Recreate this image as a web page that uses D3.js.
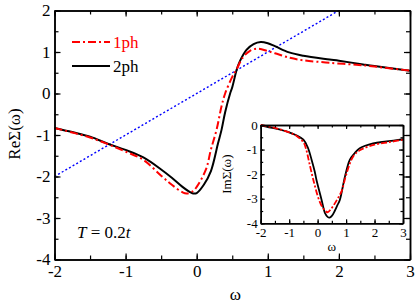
<!DOCTYPE html>
<html>
<head>
<meta charset="utf-8">
<script src="https://cdn.jsdelivr.net/npm/d3@7"></script>
<style>
  body { margin: 0; background: #fff; }
  svg, svg text { font-family: "Liberation Serif", "Times New Roman", serif; }
  .axis path, .axis line { stroke: #000; }
</style>
</head>
<body>
<div id="graph-area"></div>
<script>
// real part, 1 phonon and 2 phonon
var reW1 = [-2, -1.75, -1.5, -1.25, -1, -0.75, -0.5, -0.35, -0.2, -0.14, -0.05, 0, 0.13, 0.2, 0.28, 0.35, 0.4, 0.5, 0.56, 0.65, 0.75, 0.86, 1.0, 1.1, 1.31, 1.5, 1.87, 2.34, 2.5, 3];
var reS1 = [-0.83, -0.94, -1.06, -1.22, -1.40, -1.60, -1.98, -2.2, -2.38, -2.41, -2.35, -2.25, -1.83, -1.35, -0.87, -0.3, 0.0, 0.4, 0.58, 0.87, 1.03, 1.08, 1.02, 0.97, 0.86, 0.80, 0.74, 0.68, 0.65, 0.55];
var reW2 = [-2, -1.75, -1.5, -1.25, -1, -0.75, -0.5, -0.35, -0.2, -0.1, -0.05, 0, 0.1, 0.2, 0.3, 0.35, 0.4, 0.47, 0.5, 0.56, 0.6, 0.7, 0.8, 0.9, 1.0, 1.1, 1.3, 1.5, 1.87, 2, 2.34, 2.5, 3];
var reS2 = [-0.83, -0.93, -1.04, -1.21, -1.36, -1.54, -1.83, -2.03, -2.25, -2.37, -2.41, -2.40, -2.2, -1.87, -1.2, -0.87, -0.45, 0, 0.15, 0.56, 0.75, 1.05, 1.19, 1.24, 1.21, 1.14, 0.99, 0.91, 0.82, 0.79, 0.70, 0.66, 0.55];

// imaginary part (inset)
var imW1 = [-2, -1.5, -1, -0.75, -0.5, -0.4, -0.3, -0.15, 0.05, 0.2, 0.35, 0.45, 0.6, 0.7, 0.84, 1.02, 1.25, 1.5, 2, 2.5, 3];
var imS1 = [0, -0.12, -0.3, -0.44, -0.7, -1.0, -1.5, -2.24, -3.05, -3.4, -3.55, -3.45, -3.2, -3.0, -2.7, -1.96, -1.28, -1.02, -0.8, -0.7, -0.6];
var imW2 = [-2, -1.5, -1, -0.75, -0.5, -0.35, -0.21, -0.1, -0.04, 0.14, 0.26, 0.35, 0.42, 0.5, 0.6, 0.7, 0.78, 0.96, 1.13, 1.3, 1.48, 1.95, 2.42, 3];
var imS2 = [-0.02, -0.14, -0.3, -0.42, -0.6, -0.9, -1.42, -1.9, -2.24, -3.05, -3.59, -3.74, -3.77, -3.7, -3.5, -3.25, -3.05, -2.1, -1.42, -1.15, -0.95, -0.75, -0.67, -0.58];

// dotted line y = omega
var diagW = [-2, 2];

var mainXTicks = [-2, -1, 0, 1, 2, 3];
var mainYTicks = [-4, -3, -2, -1, 0, 1, 2];
var insetXTicks = [-2, -1, 0, 1, 2, 3];
var insetYTicks = [-4, -3, -2, -1, 0];
var legendNames = ["1ph", "2ph"];

var W = 415, H = 303;
var SERIF = "Liberation Serif, Times New Roman, serif";

var svg = d3.select("#graph-area").append("svg")
    .attr("width", W)
    .attr("height", H);

function halves(a, b) {
    var out = [];
    for (var v = a; v <= b + 1e-9; v += 0.5) out.push(v);
    return out;
}

function zip(w, s) {
    return w.map(function(d, i) { return [d, s[i]]; });
}

// draws a boxed frame with inward ticks on all four sides
function frame(g, x, y, xt, yt, big, small, fontSize, pad) {
    var x0 = x.range()[0], x1 = x.range()[1], y0 = y.range()[0], y1 = y.range()[1];
    var fmt = function(d) { return String(d); };
    var xmin = halves(x.domain()[0], x.domain()[1]), ymin = halves(y.domain()[0], y.domain()[1]);

    g.append("g").attr("class", "axis").attr("transform", "translate(0," + y0 + ")")
        .call(d3.axisBottom(x).tickValues(xmin).tickSizeInner(-small).tickSizeOuter(0).tickFormat(""));
    g.append("g").attr("class", "axis").attr("transform", "translate(0," + y0 + ")")
        .call(d3.axisBottom(x).tickValues(xt).tickSizeInner(-big).tickSizeOuter(0).tickPadding(pad).tickFormat(fmt));
    g.append("g").attr("class", "axis").attr("transform", "translate(0," + y1 + ")")
        .call(d3.axisTop(x).tickValues(xmin).tickSizeInner(-small).tickSizeOuter(0).tickFormat(""));
    g.append("g").attr("class", "axis").attr("transform", "translate(0," + y1 + ")")
        .call(d3.axisTop(x).tickValues(xt).tickSizeInner(-big).tickSizeOuter(0).tickFormat(""));

    g.append("g").attr("class", "axis").attr("transform", "translate(" + x0 + ",0)")
        .call(d3.axisLeft(y).tickValues(ymin).tickSizeInner(-small).tickSizeOuter(0).tickFormat(""));
    g.append("g").attr("class", "axis").attr("transform", "translate(" + x0 + ",0)")
        .call(d3.axisLeft(y).tickValues(yt).tickSizeInner(-big).tickSizeOuter(0).tickPadding(pad - 1).tickFormat(fmt));
    g.append("g").attr("class", "axis").attr("transform", "translate(" + x1 + ",0)")
        .call(d3.axisRight(y).tickValues(ymin).tickSizeInner(-small).tickSizeOuter(0).tickFormat(""));
    g.append("g").attr("class", "axis").attr("transform", "translate(" + x1 + ",0)")
        .call(d3.axisRight(y).tickValues(yt).tickSizeInner(-big).tickSizeOuter(0).tickFormat(""));

    g.selectAll(".axis")
        .attr("font-family", SERIF)
        .attr("font-size", fontSize);
    g.selectAll(".axis text").attr("fill", "#000");
    g.selectAll(".axis path").attr("stroke-width", 1.5);
    g.selectAll(".axis line").attr("stroke-width", 1.2);
}

// ---- main plot ----
var x = d3.scaleLinear().domain([-2, 3]).range([54.5, 410]);
var y = d3.scaleLinear().domain([-4, 2]).range([259.5, 10.5]);

var main = svg.append("g");

var line = d3.line()
    .x(function(d) { return x(d[0]); })
    .y(function(d) { return y(d[1]); })
    .curve(d3.curveCatmullRom.alpha(0.5));

main.append("path")
    .attr("d", line(diagW.map(function(d) { return [d, d]; })))
    .attr("fill", "none")
    .attr("stroke", "#0000ff")
    .attr("stroke-width", 1.4)
    .attr("stroke-dasharray", "2,2.2");

main.append("path")
    .attr("d", line(zip(reW2, reS2)))
    .attr("fill", "none")
    .attr("stroke", "#000")
    .attr("stroke-width", 2);

main.append("path")
    .attr("d", line(zip(reW1, reS1)))
    .attr("fill", "none")
    .attr("stroke", "#ff0000")
    .attr("stroke-width", 2)
    .attr("stroke-dasharray", "8,3,2,3");

frame(main, x, y, mainXTicks, mainYTicks, 6, 4, 17, 5);

main.append("text")
    .attr("transform", "translate(20," + ((y(2) + y(-4)) / 2 - 1) + ") rotate(-90)")
    .attr("text-anchor", "middle")
    .attr("font-family", SERIF)
    .attr("font-size", 17)
    .text("ReΣ(ω)");

main.append("text")
    .attr("x", (x(-2) + x(3)) / 2 + 3)
    .attr("y", 300)
    .attr("text-anchor", "middle")
    .attr("font-family", SERIF)
    .attr("font-size", 17)
    .text("ω");

var temp = main.append("text")
    .attr("x", 77)
    .attr("y", 238)
    .attr("font-family", SERIF)
    .attr("font-size", 17);
temp.append("tspan").style("font-style", "italic").text("T");
temp.append("tspan").text(" = 0.2");
temp.append("tspan").style("font-style", "italic").text("t");

// legend
var legend = main.selectAll(".legend")
    .data(legendNames)
    .enter().append("g")
    .attr("class", "legend")
    .attr("transform", function(d, i) { return "translate(72," + (42 + i * 24) + ")"; });

legend.append("line")
    .attr("x1", 0).attr("x2", 38)
    .attr("y1", 0).attr("y2", 0)
    .attr("stroke", function(d, i) { return i == 0 ? "#ff0000" : "#000"; })
    .attr("stroke-width", 2)
    .attr("stroke-dasharray", function(d, i) { return i == 0 ? "8,3,2,3" : null; });

legend.append("text")
    .attr("x", 41)
    .attr("y", 6)
    .attr("fill", function(d, i) { return i == 0 ? "#ff0000" : "#000"; })
    .attr("font-family", SERIF)
    .attr("font-size", 17)
    .text(function(d) { return d; });

// ---- inset ----
var xi = d3.scaleLinear().domain([-2, 3]).range([260.7, 403]);
var yi = d3.scaleLinear().domain([-4, 0]).range([223.3, 125]);

var inset = svg.append("g");

inset.append("rect")
    .attr("x", xi(-2)).attr("y", yi(0))
    .attr("width", xi(3) - xi(-2)).attr("height", yi(-4) - yi(0))
    .attr("fill", "#fff");

var lineI = d3.line()
    .x(function(d) { return xi(d[0]); })
    .y(function(d) { return yi(d[1]); })
    .curve(d3.curveCatmullRom.alpha(0.5));

inset.append("path")
    .attr("d", lineI(zip(imW2, imS2)))
    .attr("fill", "none")
    .attr("stroke", "#000")
    .attr("stroke-width", 1.8);

inset.append("path")
    .attr("d", lineI(zip(imW1, imS1)))
    .attr("fill", "none")
    .attr("stroke", "#ff0000")
    .attr("stroke-width", 1.8)
    .attr("stroke-dasharray", "6,2,2,2");

frame(inset, xi, yi, insetXTicks, insetYTicks, 4, 2.5, 13, 4);

inset.append("text")
    .attr("transform", "translate(231," + ((yi(0) + yi(-4)) / 2) + ") rotate(-90)")
    .attr("text-anchor", "middle")
    .attr("font-family", SERIF)
    .attr("font-size", 13)
    .text("ImΣ(ω)");

inset.append("text")
    .attr("x", (xi(-2) + xi(3)) / 2)
    .attr("y", 251)
    .attr("text-anchor", "middle")
    .attr("font-family", SERIF)
    .attr("font-size", 13)
    .text("ω");
</script>
</body>
</html>
